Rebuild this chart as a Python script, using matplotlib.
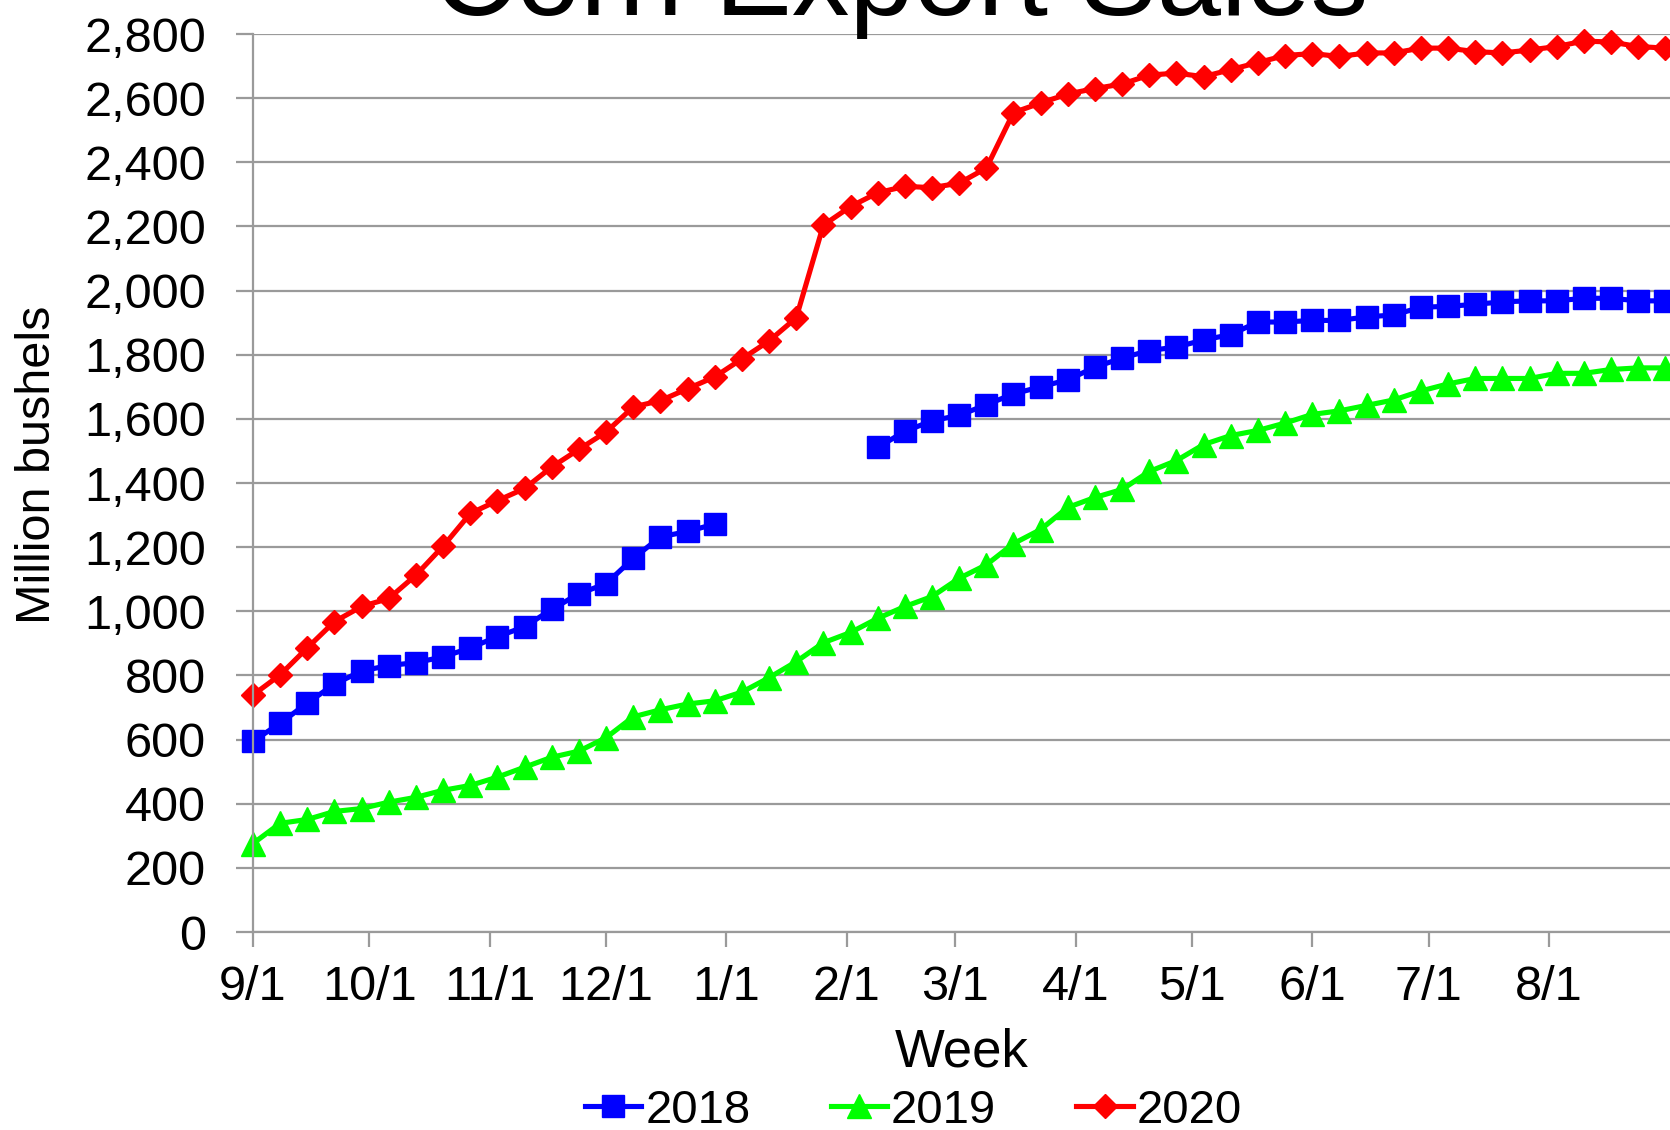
import numpy as np
import matplotlib
matplotlib.use("Agg")
import matplotlib.pyplot as plt

plt.rcParams['font.family'] = ['Liberation Sans', 'DejaVu Sans']

# days since 9/1 for the month ticks
tick_days = [0, 30, 61, 91, 122, 153, 181, 212, 242, 273, 303, 334]
tick_labels = ["9/1", "10/1", "11/1", "12/1", "1/1", "2/1", "3/1",
               "4/1", "5/1", "6/1", "7/1", "8/1"]

weeks = np.arange(53)

# 2018 marketing year (gap between late Dec and early Feb)
sales_2018 = [595, 651, 714, 773, 814, 831, 840, 858, 886, 921, 952, 1006,
              1055, 1086, 1165, 1232, 1249, 1272,
              None, None, None, None, None,
              1511, 1561, 1594, 1611, 1644, 1678, 1700, 1722, 1761, 1790,
              1813, 1824, 1846, 1863, 1902, 1902, 1907, 1907, 1918, 1924,
              1948, 1951, 1957, 1965, 1968, 1968, 1976, 1976, 1968, 1968]

sales_2019 = [276, 339, 351, 376, 385, 405, 420, 442, 457, 483, 514, 545,
              564, 606, 671, 693, 711, 721, 748, 793, 843, 902,
              934, 978, 1015, 1046, 1103, 1145, 1211, 1255, 1324, 1355,
              1380, 1436, 1470, 1520, 1548, 1564, 1587, 1614, 1625, 1642,
              1659, 1687, 1709, 1726, 1726, 1726, 1742, 1742, 1754, 1759,
              1759]

sales_2020 = [739, 802, 886, 968, 1015, 1040, 1113, 1203, 1305, 1345, 1383,
              1450, 1505, 1559, 1637, 1657, 1694, 1731, 1787, 1843, 1915,
              2204, 2262, 2305, 2325, 2321, 2335, 2382, 2555, 2585, 2613,
              2630, 2644, 2672, 2678, 2667, 2689, 2711, 2733, 2739, 2730,
              2741, 2741, 2756, 2756, 2745, 2741, 2750, 2761, 2778, 2775,
              2761, 2756]

days = weeks * 7
s18 = np.array([np.nan if v is None else v for v in sales_2018], dtype=float)

fig = plt.figure(figsize=(16.7, 11.3), dpi=100)
ax = fig.add_axes([0.1515, 0.1752, 0.8485, 0.7947])

grid_c = "#9a9a9a"
ax.plot(days, s18, color="#0000ff", lw=3.7, marker="s", ms=15.5,
        label="2018", clip_on=False)
ax.plot(days, sales_2019, color="#00ff00", lw=3.7, marker="^", ms=17,
        label="2019", clip_on=False)
ax.plot(days, sales_2020, color="#ff0000", lw=3.7, marker="D", ms=12.5,
        label="2020", clip_on=False)

ax.set_xlim(0, 365.2)
ax.set_ylim(0, 2800)
ax.set_yticks(np.arange(0, 2801, 200))
ax.set_yticklabels([f"{v:,}" for v in range(0, 2801, 200)])
ax.set_xticks(tick_days)
ax.set_xticklabels(tick_labels)

ax.grid(axis="y", color=grid_c, lw=1.6)
ax.set_axisbelow(True)
for side in ["top", "right"]:
    ax.spines[side].set_visible(False)
for side in ["left", "bottom"]:
    ax.spines[side].set_color(grid_c)
    ax.spines[side].set_linewidth(1.6)

ax.tick_params(axis="y", length=12, width=1.6, color=grid_c, pad=22,
               labelsize=35)
ax.tick_params(axis="x", length=11, width=1.6, color=grid_c, pad=13,
               labelsize=35)

ax.set_xlabel("Week", fontsize=38)
ax.xaxis.set_label_coords(0.5, -0.106)
fig.text(0.0225, 0.5885, "Million bushels", rotation=90, fontsize=35,
         ha="center", va="center")

fig.text(0.5395, 0.9867, "Corn Export Sales", fontsize=83,
         ha="center", va="baseline")

fig.legend(loc="center", bbox_to_anchor=(0.547, 0.017), ncol=3,
           frameon=False, fontsize=34, handlelength=1.2,
           handletextpad=0.08, columnspacing=1.7, borderpad=0)

fig.savefig("out.png", dpi=100)
